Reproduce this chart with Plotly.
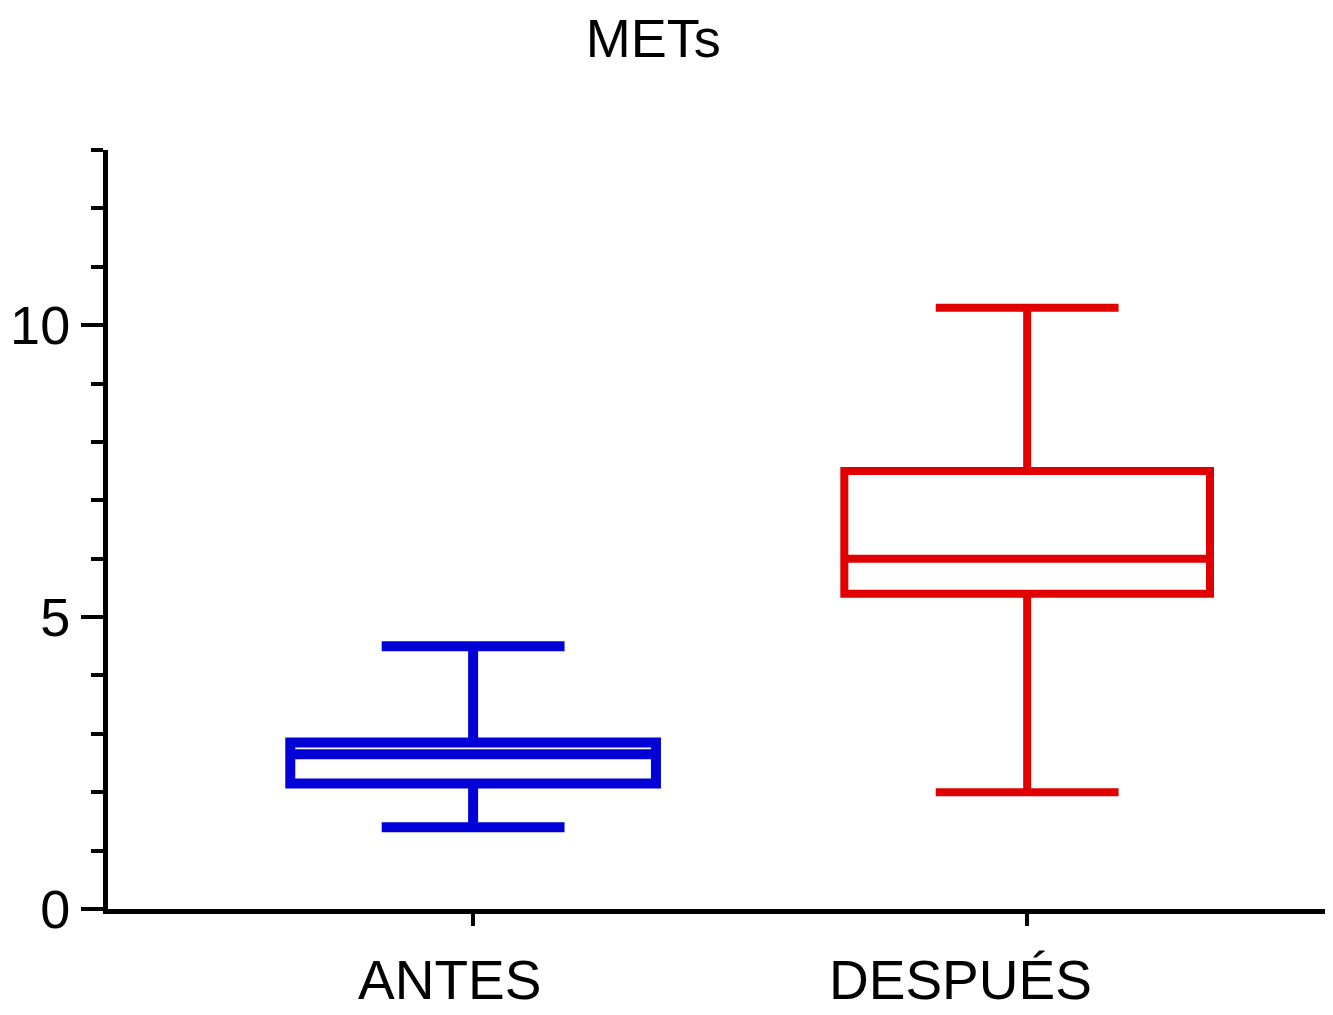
import plotly.graph_objects as go

categories = ["ANTES", "DESPUÉS"]
lower_whisker = [1.4, 2.0]
q1_values = [2.15, 5.4]
median_values = [2.65, 6.0]
q3_values = [2.85, 7.5]
upper_whisker = [4.5, 10.3]
colors = ["rgb(0,0,215)", "rgb(225,0,0)"]
line_widths = [10, 8]
label_shifts = [-24, -67]
y_tick_vals = [0, 5, 10]

font_family = "Liberation Sans, Arial, Helvetica, sans-serif"

fig = go.Figure()
for i, cat in enumerate(categories):
    fig.add_trace(go.Box(
        x=[cat],
        q1=[q1_values[i]],
        median=[median_values[i]],
        q3=[q3_values[i]],
        lowerfence=[lower_whisker[i]],
        upperfence=[upper_whisker[i]],
        boxpoints=False,
        width=0.66,
        whiskerwidth=0.5,
        line=dict(color=colors[i], width=line_widths[i]),
        fillcolor="rgba(255,255,255,0)",
        showlegend=False,
        hoverinfo="skip",
    ))

for i, cat in enumerate(categories):
    fig.add_annotation(
        x=cat, y=0, xref="x", yref="y",
        text=cat, showarrow=False,
        yanchor="middle", yshift=-71, xshift=label_shifts[i],
        font=dict(family=font_family, size=55, color="black"),
    )

fig.update_layout(
    width=1325, height=1007,
    margin=dict(l=100, r=0, t=142, b=106),
    plot_bgcolor="white", paper_bgcolor="white",
    title=dict(
        text="METs", x=0.487, xanchor="center",
        y=1 - 30 / 1007, yanchor="middle", yref="container",
        font=dict(family=font_family, size=54, color="black"),
    ),
    font=dict(family=font_family, color="black"),
)

fig.update_xaxes(
    type="category",
    categoryorder="array", categoryarray=categories,
    range=[-0.659, 1.552],
    showline=True, linecolor="black", linewidth=5,
    ticks="outside", ticklen=12, tickwidth=4, tickcolor="black",
    showticklabels=False,
    showgrid=False, zeroline=False,
)

fig.update_yaxes(
    range=[0, 13],
    tickvals=y_tick_vals,
    showline=True, linecolor="black", linewidth=5,
    ticks="outside", ticklen=22, tickwidth=4, tickcolor="black",
    tickfont=dict(family=font_family, size=54, color="black"),
    minor=dict(dtick=1, tick0=0, ticks="outside", ticklen=12, tickwidth=4, tickcolor="black", showgrid=False),
    showgrid=False, zeroline=False,
)

fig.write_html("out.html")
